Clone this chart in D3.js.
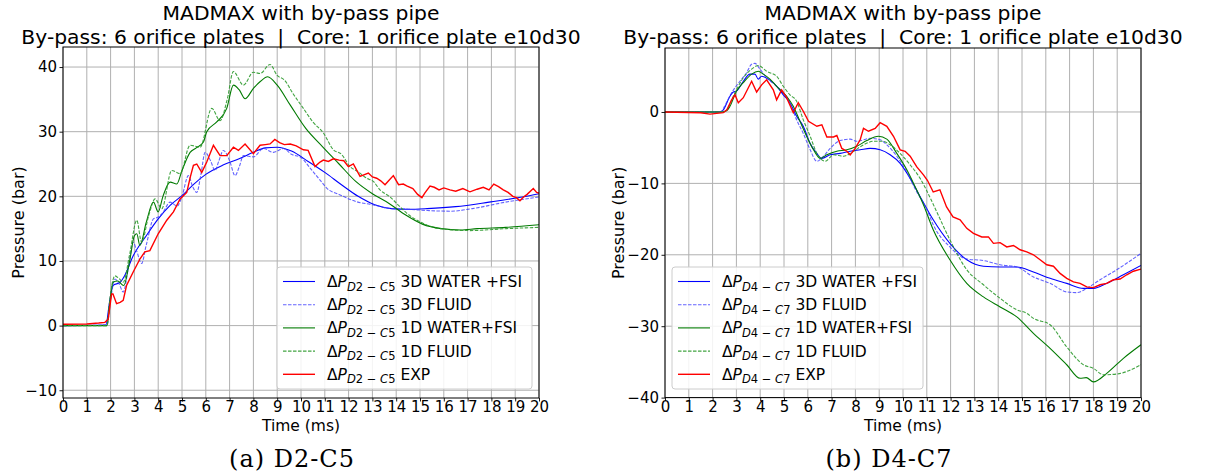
<!DOCTYPE html>
<html><head><meta charset="utf-8">
<script src="https://cdn.jsdelivr.net/npm/d3@7"></script>
<style>
body{margin:0;background:#fff;}
svg{display:block;font-family:"DejaVu Sans",sans-serif;}
</style></head>
<body>
<svg id="chart" width="1206" height="476"></svg>
<script>
// ---------- DATA ----------
const titleLine1 = "MADMAX with by-pass pipe";
const titleLine2 = "By-pass: 6 orifice plates  |  Core: 1 orifice plate e10d30";
const xTicks = [0,1,2,3,4,5,6,7,8,9,10,11,12,13,14,15,16,17,18,19,20];
const yTicksA = [-10,0,10,20,30,40];
const yTicksB = [-40,-30,-20,-10,0];
const seriesNames = ["3D WATER +FSI","3D FLUID","1D WATER+FSI","1D FLUID","EXP"];

// Panel (a) D2-C5
const a_3dw_t = [0,1.8,1.95,2.1,2.4,2.6,2.95,3.5,4.0,4.5,5.0,5.5,6.0,6.7,7.4,8.0,8.5,9.0,9.6,10.3,11.0,11.7,12.4,13.1,13.8,14.5,15.3,16.5,17.9,19.3,20];
const a_3dw_v = [0,0.1,3.5,6.2,6.7,7.8,10.8,13.9,16.5,18.6,20.1,21.9,23.4,24.8,25.8,26.8,27.5,27.6,27.0,25.4,23.7,21.8,20.0,18.7,18.1,18.0,18.1,18.4,19.1,19.9,20.4];
const a_3df_t = [0,1.85,2.0,2.18,2.35,2.53,2.75,2.95,3.1,3.3,3.5,3.8,4.0,4.2,4.5,4.8,5.0,5.27,5.45,5.62,5.8,5.97,6.2,6.39,6.55,6.74,7.0,7.23,7.4,7.58,8.0,8.42,8.84,9.26,9.6,10.0,10.4,10.8,11.1,11.6,12.3,13.0,13.8,14.5,15.3,16.3,17.2,18.6,20];
const a_3df_v = [0,0.1,4,7.2,6.5,5.2,9,12.9,11.5,9.6,12.5,16.5,16.8,17.5,19.1,18.5,20,23.2,21.5,20.6,23.5,26.8,25.5,24,25.5,27.1,25.5,23.2,24.5,26.3,26.1,27.4,26.8,27.4,26.5,26.0,24.3,22.5,21.2,20.3,19.2,18.7,18.1,18.0,17.8,17.7,18.1,19.1,19.9];
const a_1dw_t = [0,1.85,1.95,2.1,2.3,2.55,2.8,3.0,3.1,3.23,3.5,3.8,4.0,4.2,4.5,4.78,5.0,5.34,5.6,5.9,6.04,6.46,6.88,7.16,7.4,7.65,8.0,8.3,8.6,9.0,9.55,10.2,10.9,11.6,12.3,13.0,13.7,14.4,15.1,15.9,16.7,17.4,18.6,20];
const a_1dw_v = [0,0,3,6.7,6.9,6.2,10,13.9,14.2,12.4,16,19.1,17.6,20,22.2,21.9,24,26.8,27.5,28.4,30,31.5,33.6,37.2,36.5,35.1,36.7,37.8,38.5,37.2,34.1,30.5,27.7,25,22.3,20.4,18.9,17.1,15.7,15.0,14.8,15.0,15.2,15.6];
const a_1df_t = [0,1.85,1.95,2.18,2.35,2.53,2.8,3.1,3.3,3.6,3.87,4.15,4.57,4.92,5.34,5.76,6.25,6.6,6.9,7.16,7.58,8.0,8.28,8.7,9.0,9.3,9.68,10.1,10.5,10.94,11.36,11.7,12.06,12.4,12.76,13.04,13.32,13.74,14.1,14.44,15.14,15.84,17.1,18.63,20];
const a_1df_v = [0,0,3.5,7.7,7.3,6.7,11,16.3,12.9,17,19.6,18.1,24,23.5,27.9,27.6,33.6,31.7,35,39.3,37.2,39.2,39.0,40.4,38.7,38,35.8,33.6,31.5,29.8,27.2,26.5,24.6,23.8,22.8,22.3,21.0,19.9,18.6,17.4,15.8,15.0,14.7,15.0,15.2];
const a_exp_t = [0,1.0,1.5,1.76,1.9,2.04,2.1,2.25,2.4,2.53,2.67,2.95,3.23,3.44,3.65,4.0,4.36,4.64,4.92,5.2,5.35,5.48,5.62,5.83,6.04,6.32,6.6,6.88,7.16,7.37,7.65,8.0,8.28,8.5,8.7,8.9,9.1,9.3,9.55,9.8,10.1,10.3,10.59,10.8,10.94,11.15,11.36,11.6,11.8,11.99,12.2,12.48,12.83,13.0,13.18,13.35,13.53,13.7,13.88,14.1,14.3,14.44,14.7,14.9,15.08,15.2,15.42,15.6,15.8,16.0,16.26,16.5,16.8,17.1,17.4,17.66,17.9,18.1,18.3,18.5,18.7,18.9,19.05,19.2,19.35,19.5,19.76,19.9,20];
const a_exp_v = [0.2,0.25,0.4,0.5,1,4.9,4.9,3.4,3.6,3.9,6.2,8.3,10.3,11.4,11.6,14.2,16.3,17.6,19.6,20.6,23,24.8,25,23.7,25.3,27.9,26.3,26.3,27.6,27.1,28.1,26.6,27.9,28.0,28.1,28.8,28.3,28.0,28.1,27.8,27.2,27.1,24.6,25.3,25.6,25.4,25.8,25.6,25.5,24.6,25.0,23.1,23.6,23.0,22.8,22.4,21.8,22.5,23.2,21.8,21.9,21.6,21.2,20.3,19.8,20.5,21.6,21.4,21.0,21.3,21.0,20.8,21.2,20.7,21.1,21.4,21.0,21.9,21.5,21.0,20.6,20.0,19.8,19.3,19.9,20.3,21.2,20.6,20.5];

// Panel (b) D4-C7
const b_3dw_t = [0,2.3,2.45,2.73,2.87,3.0,3.29,3.57,3.78,3.92,4.06,4.34,4.7,4.97,5.25,5.53,5.81,6.1,6.38,6.59,6.94,7.36,7.78,8.2,8.62,9.04,9.46,9.88,10.3,10.71,11.27,11.97,12.68,13.38,14.08,14.78,15.48,16.18,16.88,17.58,18.0,18.56,19.26,20];
const b_3dw_v = [0,0,0.3,2.2,2.8,2.9,4.3,5.3,5.3,4.6,5.0,4.6,3.6,2.4,1.3,-0.6,-2,-4.4,-5.8,-6.5,-6.0,-5.8,-5.5,-5.3,-5.1,-5.3,-6.0,-7.2,-9.3,-11.8,-15.1,-18.4,-20.7,-21.6,-21.7,-21.7,-22.4,-23.3,-24.0,-24.7,-24.7,-24.0,-22.8,-21.5];
const b_3df_t = [0,2.35,2.5,2.8,3.15,3.43,3.64,3.78,3.99,4.27,4.62,4.97,5.25,5.53,5.81,6.1,6.38,6.66,6.94,7.36,7.78,8.06,8.62,9.04,9.32,9.74,10.16,10.58,11.0,11.27,11.97,12.68,13.38,14.08,14.78,15.48,16.18,16.88,17.3,17.72,18.28,18.98,20];
const b_3df_v = [0,0,0.8,2.7,4.3,5.5,6.7,6.8,6.0,4.8,3.8,2.7,1.3,-1.1,-3,-5.3,-6.9,-6.2,-5.1,-4.0,-3.8,-4.1,-3.7,-3.9,-4.6,-6.2,-8.4,-11.2,-13.6,-15.8,-18.9,-20.6,-20.8,-21.4,-21.7,-23.1,-24.0,-25.2,-25.3,-24.7,-23.5,-22.1,-19.8];
const b_1dw_t = [0,2.4,2.6,2.73,3.0,3.29,3.64,3.92,4.13,4.41,4.69,5.11,5.39,5.67,5.95,6.24,6.52,6.8,7.22,7.64,8.06,8.48,8.97,9.32,9.74,10.16,10.5,10.86,11.27,11.97,12.68,13.38,14.08,14.78,15.48,16.18,16.88,17.44,17.7,18.0,18.56,19.26,20];
const b_1dw_v = [0,0,0.2,0.8,2.9,4.1,5.3,5.7,5.3,4.6,3.6,2.2,0.8,-1.3,-3.4,-5.3,-6.5,-6.0,-5.5,-5.3,-4.8,-4.0,-3.4,-3.8,-5.8,-8.1,-10.4,-13.0,-16.5,-20.7,-24.0,-25.9,-27.3,-28.7,-31.0,-33.1,-35.4,-37.3,-37.2,-37.8,-36.6,-34.5,-32.6];
const b_1df_t = [0,2.4,2.6,2.87,3.29,3.64,3.92,4.27,4.69,4.97,5.25,5.53,5.81,6.1,6.38,6.73,7.08,7.5,7.92,8.34,8.76,9.11,9.46,9.88,10.3,10.72,11.14,11.42,11.97,12.68,13.38,14.08,14.78,15.2,15.48,16.18,16.88,17.58,18.0,18.42,18.98,20];
const b_1df_v = [0,0,0.3,2.2,4.8,6.0,6.5,5.7,5.0,3.6,2.4,1.5,-1.1,-3.4,-5.8,-6.9,-6.0,-6.2,-5.5,-4.6,-4.1,-4.1,-4.6,-5.8,-7.4,-9.3,-12.0,-14.0,-17.9,-22.1,-24.2,-26.1,-27.7,-28.2,-28.9,-29.8,-32.9,-35.4,-35.9,-36.8,-36.7,-35.4];
const b_exp_t = [0,1.5,1.89,2.45,2.6,2.8,2.94,3.08,3.29,3.64,3.85,4.06,4.27,4.55,4.69,4.9,5.11,5.39,5.6,5.81,6.03,6.38,6.59,6.8,7.08,7.22,7.43,7.64,7.78,7.99,8.2,8.34,8.55,8.83,9.04,9.32,9.6,9.88,10.09,10.3,10.58,10.86,11.03,11.27,11.55,11.83,12.1,12.4,12.68,12.96,13.31,13.59,13.8,14.08,14.36,14.64,14.92,15.2,15.48,15.76,16.04,16.32,16.6,16.88,17.16,17.44,17.72,18.0,18.28,18.56,18.84,19.12,19.4,19.68,20];
const b_exp_v = [0,-0.1,-0.3,-0.1,0.3,1.7,2.4,1.3,2.0,4.3,2.8,3.8,4.5,3.1,1.7,3.1,2.0,-0.1,1.3,0.1,-1.3,-2.0,-1.8,-3.5,-3.5,-3.3,-5.1,-5.5,-6.0,-5.1,-3.9,-2.3,-2.7,-2.3,-1.5,-2.0,-3.4,-5.3,-5.5,-6.2,-7.7,-8.8,-9.6,-11.2,-10.9,-13.3,-14.7,-15.1,-16.3,-17.0,-17.5,-17.5,-18.4,-18.3,-18.9,-18.7,-19.3,-19.6,-20.0,-20.7,-21.4,-21.6,-22.6,-23.3,-23.8,-24.0,-24.5,-24.6,-24.2,-24.0,-23.5,-23.4,-22.8,-22.3,-22.0];

// ---------- STYLE ----------
const styles = [
  {color:"#0000ff", dash:null, width:1.1, opacity:1},
  {color:"#3c3cff", dash:"3.5,1.5", width:1.1, opacity:0.8},
  {color:"#007a00", dash:null, width:1.1, opacity:1},
  {color:"#2e9a2e", dash:"3.5,1.5", width:1.1, opacity:0.9},
  {color:"#ff0000", dash:null, width:1.4, opacity:1}
];
const SANS = "'DejaVu Sans', sans-serif";
const SERIF = "'DejaVu Serif', serif";

const svg = d3.select("#chart");

function panel(cfg){
  const g = svg.append("g");
  const x = d3.scaleLinear().domain([0,20]).range([cfg.x0,cfg.x1]);
  const y = d3.scaleLinear().domain(cfg.yDomain).range([cfg.y1,cfg.y0]);

  // grid
  g.append("g").selectAll("line").data(xTicks).join("line")
    .attr("x1",d=>x(d)).attr("x2",d=>x(d)).attr("y1",cfg.y0).attr("y2",cfg.y1)
    .attr("stroke","#b0b0b0").attr("stroke-width",1);
  g.append("g").selectAll("line").data(cfg.yTicks).join("line")
    .attr("x1",cfg.x0).attr("x2",cfg.x1).attr("y1",d=>y(d)).attr("y2",d=>y(d))
    .attr("stroke","#b0b0b0").attr("stroke-width",1);

  // clip
  const cid = "clip"+cfg.id;
  svg.append("clipPath").attr("id",cid).append("rect")
    .attr("x",cfg.x0).attr("y",cfg.y0).attr("width",cfg.x1-cfg.x0).attr("height",cfg.y1-cfg.y0);

  const lineGen = d3.line().x(d=>x(d[0])).y(d=>y(d[1]));
  const lg = g.append("g").attr("clip-path","url(#"+cid+")");
  cfg.series.forEach((s,i)=>{
    const st = styles[i];
    const pts = s.t.map((t,k)=>[t,s.v[k]]);
    lineGen.curve(i===4 ? d3.curveLinear : d3.curveMonotoneX);
    lg.append("path").datum(pts).attr("d",lineGen)
      .attr("fill","none").attr("stroke",st.color).attr("stroke-width",st.width)
      .attr("stroke-opacity",st.opacity)
      .attr("stroke-dasharray",st.dash);
  });

  // axes
  const xAxis = d3.axisBottom(x).tickValues(xTicks).tickSize(3.5).tickPadding(0).tickFormat(d3.format("d"));
  const yAxis = d3.axisLeft(y).tickValues(cfg.yTicks).tickSize(3.5).tickPadding(2.5)
    .tickFormat(d=> d<0 ? "\u2212"+Math.abs(d) : String(d));
  const gx = g.append("g").attr("transform",`translate(0,${cfg.y1})`).call(xAxis);
  const gy = g.append("g").attr("transform",`translate(${cfg.x0},0)`).call(yAxis);
  [gx,gy].forEach(a=>{
    a.attr("font-family",SANS).attr("font-size",15);
    a.select(".domain").remove();
    a.selectAll("line").attr("stroke","#000").attr("stroke-width",0.9);
    a.selectAll("text").attr("fill","#000");
  });
  // frame
  g.append("rect").attr("x",cfg.x0).attr("y",cfg.y0).attr("width",cfg.x1-cfg.x0).attr("height",cfg.y1-cfg.y0)
    .attr("fill","none").attr("stroke","#000").attr("stroke-width",1);

  const cx = (cfg.x0+cfg.x1)/2;
  g.append("text").attr("x",cx).attr("y",20).attr("text-anchor","middle")
    .style("font-family",SANS).style("font-size","20.3px").text(titleLine1);
  g.append("text").attr("x",cx).attr("y",44).attr("text-anchor","middle")
    .style("font-family",SANS).style("font-size","20.3px").style("white-space","pre").text(titleLine2);
  g.append("text").attr("x",cx).attr("y",430.5).attr("text-anchor","middle")
    .style("font-family",SANS).style("font-size","15.5px").text("Time (ms)");
  g.append("text").attr("transform",`translate(${cfg.ylabX},${(cfg.y0+cfg.y1)/2}) rotate(-90)`)
    .attr("text-anchor","middle").style("font-family",SANS).style("font-size","16px").text("Pressure (bar)");
  g.append("text").attr("x",cfg.capX).attr("y",467).attr("text-anchor","middle")
    .style("font-family",SERIF).style("font-size","24px").style("letter-spacing","1px").text(cfg.caption);

  // legend
  const L = cfg.legend;
  const lgd = g.append("g");
  lgd.append("rect").attr("x",L.x).attr("y",L.y).attr("width",L.w).attr("height",L.h)
    .attr("rx",3).attr("fill","#fff").attr("fill-opacity",0.85).attr("stroke","#cccccc").attr("stroke-width",1);
  seriesNames.forEach((name,i)=>{
    const st = styles[i];
    const ry = L.y + 14.5 + i*23.2;
    lgd.append("line").attr("x1",L.x+6).attr("x2",L.x+38).attr("y1",ry).attr("y2",ry)
      .attr("stroke",st.color).attr("stroke-width",st.width).attr("stroke-opacity",st.opacity)
      .attr("stroke-dasharray",st.dash);
    const t = lgd.append("text").attr("x",L.x+50).attr("y",ry+5.5)
      .style("font-family",SANS).style("font-size","15.5px");
    t.append("tspan").text("\u0394");
    t.append("tspan").style("font-style","italic").text("P");
    const sub = t.append("tspan").style("font-size","11.5px").attr("dy",3.5);
    sub.append("tspan").style("font-style","italic").text(cfg.sub[0]);
    sub.append("tspan").text(cfg.sub[1]);
    sub.append("tspan").text(" \u2212 ");
    sub.append("tspan").style("font-style","italic").text(cfg.sub[2]);
    sub.append("tspan").text(cfg.sub[3]);
    t.append("tspan").attr("dy",-3.5).text(" "+name);
  });
}

panel({id:"a", x0:63, x1:539, y0:47, y1:398, yDomain:[-11.2,43.1], yTicks:yTicksA, ylabX:24, capX:292,
  caption:"(a) D2-C5", sub:["D","2","C","5"],
  legend:{x:277, y:267, w:255, h:122},
  series:[{t:a_3dw_t,v:a_3dw_v},{t:a_3df_t,v:a_3df_v},{t:a_1dw_t,v:a_1dw_v},{t:a_1df_t,v:a_1df_v},{t:a_exp_t,v:a_exp_v}]});
panel({id:"b", x0:665, x1:1141, y0:48, y1:397.6, yDomain:[-40,8.96], yTicks:yTicksB, ylabX:624, capX:889,
  caption:"(b) D4-C7", sub:["D","4","C","7"],
  legend:{x:672, y:267, w:251, h:122},
  series:[{t:b_3dw_t,v:b_3dw_v},{t:b_3df_t,v:b_3df_v},{t:b_1dw_t,v:b_1dw_v},{t:b_1df_t,v:b_1df_v},{t:b_exp_t,v:b_exp_v}]});
</script>
</body></html>
